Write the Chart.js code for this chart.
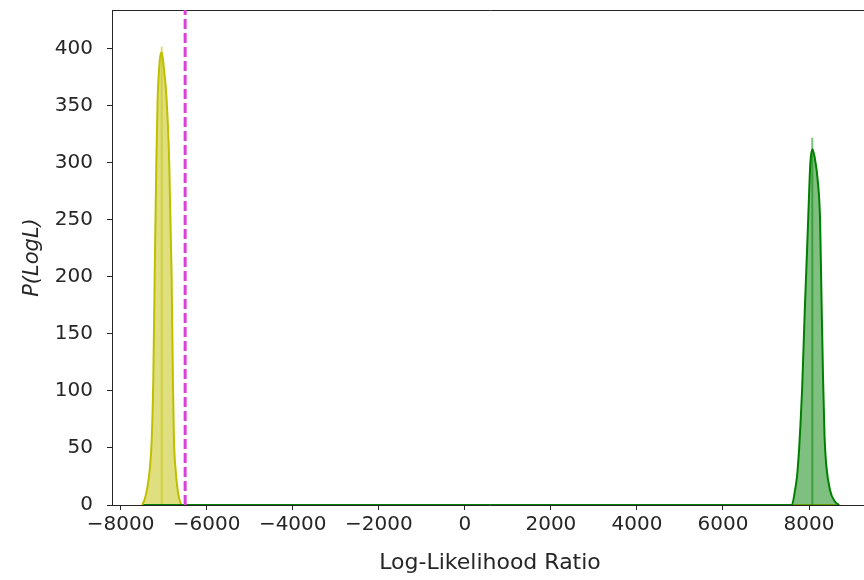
<!DOCTYPE html>
<html>
<head>
<meta charset="utf-8">
<script src="https://cdn.jsdelivr.net/npm/chart.js@4.4.1/dist/chart.umd.min.js"></script>
<style>
  html, body { margin: 0; padding: 0; background: #fff; overflow: hidden; }
  #wrap { width: 864px; height: 580px; overflow: hidden; }
</style>
</head>
<body>
<div id="wrap"><canvas id="llrChart" width="872" height="580"></canvas></div>
<script>
// Yellow distribution (KDE curve), runs flat along zero to the right end
const yellowX = [-7500, -7440, -7380, -7326, -7280, -7240, -7209, -7170, -7140, -7090, -7045, -7000, -6930, -6870, -6814, -6785, -6760, -6720, -6670, -6620, -6580, 8700];
const yellowY = [0, 5, 15, 30, 55, 110, 200, 300, 355, 390, 397, 385, 355, 300, 200, 110, 57, 30, 12, 3, 0, 0];
const yellowPeak = [-7045, 402];

// Green distribution (KDE curve), starts flat along zero from the left
const greenX = [-7470, 7600, 7674, 7720, 7767, 7800, 7837, 7900, 7950, 7984, 8030, 8077, 8130, 8200, 8256, 8290, 8326, 8360, 8400, 8488, 8600, 8700];
const greenY = [0, 0, 13, 25, 48, 70, 100, 170, 220, 255, 300, 312, 305, 285, 250, 180, 110, 60, 35, 13, 3, 0];
const greenPeak = [8075, 322];

// Threshold line
const thresholdX = -6500;

// Axes
const xTicks = [-8000, -6000, -4000, -2000, 0, 2000, 4000, 6000, 8000];
const yTicks = [0, 50, 100, 150, 200, 250, 300, 350, 400];
const xMin = -8200, xMax = 9370;
const yMin = 0, yMax = 434;

const toPoints = (xs, ys) => xs.map((x, i) => ({ x: x, y: ys[i] }));

const fontFamily = '"DejaVu Sans", sans-serif';
const textColor = '#262626';
const spineColor = '#262626';

new Chart(document.getElementById('llrChart'), {
    type: 'line',
    data: {
        datasets: [
            {
                // magenta dashed threshold
                data: [{ x: thresholdX, y: yMin }, { x: thresholdX, y: yMax }],
                borderColor: '#dc40dc',
                borderWidth: 3,
                borderDash: [10, 4],
                pointRadius: 0,
                fill: false,
                order: 0
            },
            {
                data: toPoints(greenX, greenY),
                borderColor: '#008000',
                borderWidth: 2,
                pointRadius: 0,
                cubicInterpolationMode: 'monotone',
                fill: false,
                order: 1
            },
            {
                data: toPoints(greenX, greenY),
                borderColor: 'rgba(0,128,0,0)',
                backgroundColor: 'rgba(0,128,0,0.5)',
                borderWidth: 0,
                pointRadius: 0,
                cubicInterpolationMode: 'monotone',
                fill: 'origin',
                order: 2
            },
            {
                data: [{ x: greenPeak[0], y: 0 }, { x: greenPeak[0], y: greenPeak[1] }],
                borderColor: 'rgba(0,128,0,0.5)',
                borderWidth: 2,
                pointRadius: 0,
                fill: false,
                order: 3
            },
            {
                data: toPoints(yellowX, yellowY),
                borderColor: '#bfbf00',
                borderWidth: 2,
                pointRadius: 0,
                cubicInterpolationMode: 'monotone',
                fill: false,
                order: 4
            },
            {
                data: toPoints(yellowX, yellowY),
                borderColor: 'rgba(191,191,0,0)',
                backgroundColor: 'rgba(191,191,0,0.5)',
                borderWidth: 0,
                pointRadius: 0,
                cubicInterpolationMode: 'monotone',
                fill: 'origin',
                order: 5
            },
            {
                data: [{ x: yellowPeak[0], y: 0 }, { x: yellowPeak[0], y: yellowPeak[1] }],
                borderColor: 'rgba(191,191,0,0.5)',
                borderWidth: 2,
                pointRadius: 0,
                fill: false,
                order: 6
            }
        ]
    },
    options: {
        responsive: false,
        animation: false,
        layout: { padding: { top: 10, right: 4, left: 0, bottom: 0 } },
        plugins: {
            legend: { display: false },
            tooltip: { enabled: false }
        },
        scales: {
            x: {
                type: 'linear',
                position: 'bottom',
                min: xMin,
                max: xMax,
                afterBuildTicks: (scale) => { scale.ticks = xTicks.map(v => ({ value: v })); },
                afterFit: (scale) => {
                    scale.height = 75;
                    scale.paddingLeft = 0;
                    scale.paddingRight = 0;
                },
                grid: { drawOnChartArea: false, drawTicks: true, tickLength: 5, tickColor: spineColor, tickWidth: 1 },
                border: { display: true, color: spineColor, width: 1 },
                ticks: {
                    color: textColor,
                    padding: 3,
                    maxRotation: 0,
                    autoSkip: false,
                    font: { family: fontFamily, size: 20 },
                    callback: (v) => String(v).replace('-', '\u2212')
                },
                title: {
                    display: true,
                    text: 'Log-Likelihood Ratio',
                    color: textColor,
                    font: { family: fontFamily, size: 22 },
                    padding: { top: 0, bottom: 4 }
                }
            },
            x2: {
                type: 'linear',
                position: 'top',
                min: xMin,
                max: xMax,
                afterFit: (scale) => {
                    scale.height = 0;
                    scale.paddingLeft = 0;
                    scale.paddingRight = 0;
                },
                grid: { drawOnChartArea: false, drawTicks: false },
                border: { display: true, color: spineColor, width: 1 },
                ticks: { display: false }
            },
            y: {
                type: 'linear',
                position: 'left',
                min: yMin,
                max: yMax,
                afterBuildTicks: (scale) => { scale.ticks = yTicks.map(v => ({ value: v })); },
                afterFit: (scale) => {
                    scale.width = 112;
                    scale.paddingTop = 0;
                    scale.paddingBottom = 0;
                },
                grid: { drawOnChartArea: false, drawTicks: true, tickLength: 5, tickColor: spineColor, tickWidth: 1 },
                border: { display: true, color: spineColor, width: 1 },
                ticks: {
                    color: textColor,
                    padding: 14,
                    font: { family: fontFamily, size: 20 }
                },
                title: {
                    display: true,
                    text: 'P(LogL)',
                    color: textColor,
                    font: { family: fontFamily, size: 21, style: 'italic' },
                    padding: { top: 20, bottom: 0 }
                }
            }
        }
    }
});
</script>
</body>
</html>
